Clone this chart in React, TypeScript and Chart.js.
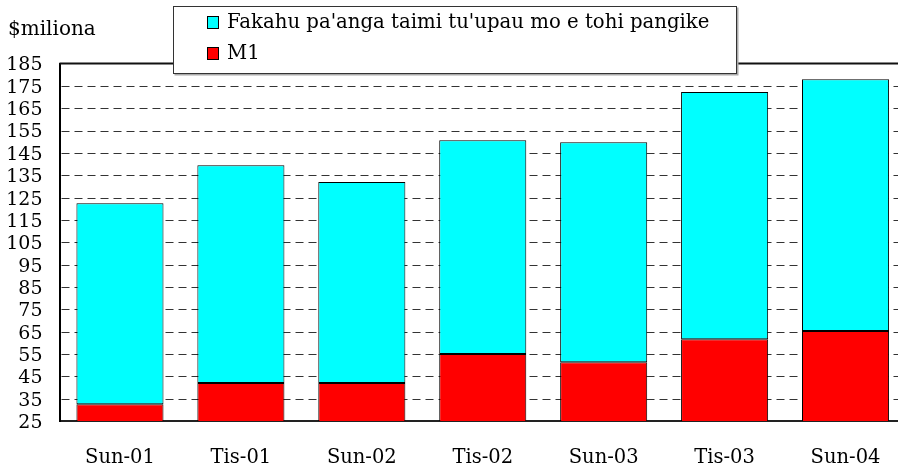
import React, { useEffect, useRef } from "react";
import { Chart, registerables } from "chart.js";

Chart.register(...registerables);

const categories = ["Sun-01", "Tis-01", "Sun-02", "Tis-02", "Sun-03", "Tis-03", "Sun-04"];
const m1Values = [32.5, 42, 42, 55, 51.3, 61.6, 65.3];
const depositValues = [90, 97.5, 90, 95.7, 98.5, 110.6, 112.7];
const seriesNames = ["Fakahu pa'anga taimi tu'upau mo e tohi pangike", "M1"];
const unitLabel = "$miliona";
const yMin = 25;
const yMax = 185;
const yStep = 10;

const FONT = "'DejaVu Serif', 'Liberation Serif', serif";
const CYAN = "#00FFFF";
const RED = "#FF0000";

const gridPlugin = {
  id: "customGrid",
  beforeDatasetsDraw(chart: any) {
    const { ctx, chartArea } = chart;
    const y = chart.scales.y;
    ctx.save();
    for (let v = yMin + yStep; v < yMax; v += yStep) {
      const py = Math.round(y.getPixelForValue(v)) + 0.5;
      ctx.strokeStyle = "#333";
      ctx.lineWidth = 1;
      ctx.setLineDash([8, 5]);
      ctx.beginPath();
      ctx.moveTo(chartArea.left + 2, py);
      ctx.lineTo(chartArea.right, py);
      ctx.stroke();
    }
    ctx.setLineDash([]);
    const topY = y.getPixelForValue(yMax);
    ctx.strokeStyle = "#111";
    ctx.lineWidth = 2;
    ctx.beginPath();
    ctx.moveTo(chartArea.left, topY);
    ctx.lineTo(chart.width, topY);
    ctx.stroke();
    ctx.restore();
  },
  afterDraw(chart: any) {
    const { ctx } = chart;
    ctx.save();
    ctx.fillStyle = "#000";
    ctx.font = `20px ${FONT}`;
    ctx.textAlign = "left";
    ctx.textBaseline = "middle";
    ctx.fillText(unitLabel, 8, 30);
    const bx = 173.5, by = 6.5, bw = 563, bh = 67;
    ctx.fillStyle = "#aaa";
    ctx.fillRect(bx + 1, by + 1, bw + 1, bh + 1);
    ctx.fillStyle = "#fff";
    ctx.fillRect(bx, by, bw, bh);
    ctx.strokeStyle = "#333";
    ctx.lineWidth = 1;
    ctx.strokeRect(bx, by, bw, bh);
    const items = [
      { label: seriesNames[0], color: CYAN, cy: 23 },
      { label: seriesNames[1], color: RED, cy: 54 },
    ];
    for (const it of items) {
      ctx.fillStyle = it.color;
      ctx.fillRect(207.5, it.cy - 6.5, 11, 12);
      ctx.strokeStyle = "#000";
      ctx.strokeRect(207.5, it.cy - 6.5, 11, 12);
      ctx.fillStyle = "#000";
      ctx.font = `19.7px ${FONT}`;
      ctx.textBaseline = "middle";
      ctx.fillText(it.label, 227, it.cy);
    }
    ctx.restore();
  },
};

export default function App() {
  const ref = useRef<HTMLCanvasElement>(null);
  useEffect(() => {
    if (!ref.current) return;
    const chart = new Chart(ref.current, {
      type: "bar",
      data: {
        labels: categories,
        datasets: [
          {
            label: seriesNames[1],
            data: m1Values,
            backgroundColor: RED,
            borderColor: "#000",
            borderWidth: 1,
            borderSkipped: false,
          },
          {
            label: seriesNames[0],
            data: depositValues,
            backgroundColor: CYAN,
            borderColor: "#000",
            borderWidth: 1,
            borderSkipped: false,
          },
        ],
      },
      options: {
        responsive: false,
        animation: false,
        devicePixelRatio: 1,
        layout: { padding: { top: 63.5, left: 0, right: 0, bottom: 0 } },
        plugins: { legend: { display: false }, tooltip: { enabled: false } },
        scales: {
          x: {
            stacked: true,
            categoryPercentage: 1,
            barPercentage: 0.723,
            grid: { display: false, drawTicks: false },
            border: { display: true, color: "#222", width: 2 },
            ticks: { color: "#000", font: { family: FONT, size: 19.5 }, padding: 25, maxRotation: 0, autoSkip: false },
            afterFit(scale: any) {
              scale.height = 50;
            },
          },
          y: {
            stacked: true,
            min: yMin,
            max: yMax,
            grid: { display: false, drawTicks: false },
            border: { display: true, color: "#000", width: 2 },
            ticks: {
              stepSize: yStep,
              autoSkip: false,
              color: "#000",
              font: { family: FONT, size: 19 },
              padding: 17,
              labelOffset: 2,
            },
            afterFit(scale: any) {
              scale.width = 59.5;
            },
          },
        },
      } as any,
      plugins: [gridPlugin],
    });
    return () => chart.destroy();
  }, []);
  return (
    <div style={{ position: "fixed", left: 0, top: 0, width: 898, height: 471, overflow: "hidden", background: "#fff" }}>
      <canvas ref={ref} width={906} height={471} style={{ width: 906, height: 471, display: "block" }} />
    </div>
  );
}
